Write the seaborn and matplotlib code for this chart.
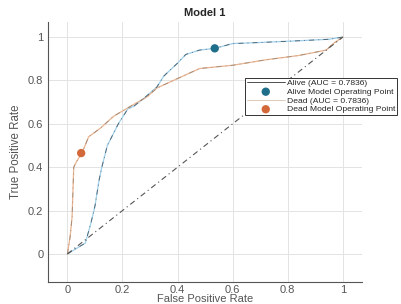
import numpy as np
import pandas as pd
import matplotlib
matplotlib.use("Agg")
import matplotlib.pyplot as plt
import seaborn as sns

# ROC curve values
alive_fpr = [0, 0.065, 0.085, 0.10, 0.115, 0.125, 0.145, 0.165, 0.185, 0.22, 0.24, 0.28,
             0.325, 0.35, 0.40, 0.43, 0.48, 0.535, 0.60, 0.70, 0.84, 0.95, 1.0]
alive_tpr = [0, 0.05, 0.14, 0.22, 0.34, 0.40, 0.50, 0.55, 0.60, 0.67, 0.68, 0.72,
             0.77, 0.82, 0.88, 0.92, 0.94, 0.948, 0.97, 0.975, 0.983, 0.99, 1.0]
dead_fpr = [0, 0.010, 0.017, 0.023, 0.035, 0.053, 0.077, 0.12, 0.168, 0.228, 0.29,
            0.325, 0.385, 0.48, 0.60, 0.72, 0.84, 0.94, 0.965, 1.0]
dead_tpr = [0, 0.08, 0.17, 0.40, 0.43, 0.465, 0.54, 0.58, 0.635, 0.68, 0.725,
            0.765, 0.80, 0.855, 0.87, 0.895, 0.915, 0.94, 0.97, 1.0]
diag = [0, 1]
op_alive = (0.535, 0.948)
op_dead = (0.05, 0.465)
auc_alive = 0.7836
auc_dead = 0.7836

sns.set_style("white")
plt.rcParams["font.family"] = ["Liberation Sans", "DejaVu Sans"]

fig = plt.figure(figsize=(4.01, 3.04), dpi=100)
ax = fig.add_axes([0.12, 0.072, 0.783, 0.856])

c_alive = "#1f6f8b"
c_dead = "#d3693a"
dash = (0, (6, 5, 1, 5))

# light colored lines + sparse dark dash-dot overlay
sns.lineplot(x=alive_fpr, y=alive_tpr, ax=ax, color="#9fd0ea", lw=0.9, sort=False)
sns.lineplot(x=dead_fpr, y=dead_tpr, ax=ax, color="#eab490", lw=0.9, sort=False)
sns.lineplot(x=alive_fpr, y=alive_tpr, ax=ax, color="#4a5a66", lw=0.6, ls=dash, sort=False,
             label=f"Alive (AUC = {auc_alive:.4f})")
sns.scatterplot(x=[op_alive[0]], y=[op_alive[1]], ax=ax, color=c_alive, s=36, edgecolor="none",
                label="Alive Model Operating Point", zorder=5)
sns.lineplot(x=dead_fpr, y=dead_tpr, ax=ax, color="#9c8a7c", lw=0.6, ls=dash, sort=False,
             label=f"Dead (AUC = {auc_dead:.4f})")
sns.scatterplot(x=[op_dead[0]], y=[op_dead[1]], ax=ax, color=c_dead, s=36, edgecolor="none",
                label="Dead Model Operating Point", zorder=5)
ax.plot(diag, diag, color="#555555", lw=0.8, ls=(0, (5, 3, 1, 3)))

ax.set_xlim(-0.07, 1.07)
ax.set_ylim(-0.13, 1.07)
ax.set_xticks([0, 0.2, 0.4, 0.6, 0.8, 1])
ax.set_xticklabels(["0", "0.2", "0.4", "0.6", "0.8", "1"])
ax.set_yticks([0, 0.2, 0.4, 0.6, 0.8, 1])
ax.set_yticklabels(["0", "0.2", "0.4", "0.6", "0.8", "1"])
ax.grid(True, color="#e3e3e3", lw=0.7)
for s in ["top", "right"]:
    ax.spines[s].set_visible(False)
for s in ["left", "bottom"]:
    ax.spines[s].set_color("#555555")
    ax.spines[s].set_linewidth(0.8)
ax.tick_params(axis="both", labelsize=8, colors="#555555", length=2, direction="in")
ax.tick_params(axis="x", pad=2)
ax.set_xlabel("False Positive Rate", fontsize=8, color="#555555", labelpad=-1)
ax.set_ylabel("True Positive Rate", fontsize=8.3, color="#555555", labelpad=4)
ax.set_title("Model 1", fontsize=8, fontweight="bold", pad=4)

leg = ax.legend(loc="upper left", bbox_to_anchor=(0.611, 0.745), bbox_transform=fig.transFigure,
                fontsize=6.1, frameon=True, fancybox=False, borderpad=0.2, labelspacing=0.1,
                handlelength=4.5, handletextpad=0.3, borderaxespad=0)
leg.get_frame().set_edgecolor("#333333")
leg.get_frame().set_linewidth(0.7)
leg.get_frame().set_facecolor("white")
leg.get_frame().set_alpha(1)
leg.legend_handles[0].set_color("#333333")
leg.legend_handles[0].set_linestyle("-")
leg.legend_handles[2].set_color("#d9c2b0")
leg.legend_handles[2].set_linestyle("-")

fig.savefig("out.png", dpi=100)
